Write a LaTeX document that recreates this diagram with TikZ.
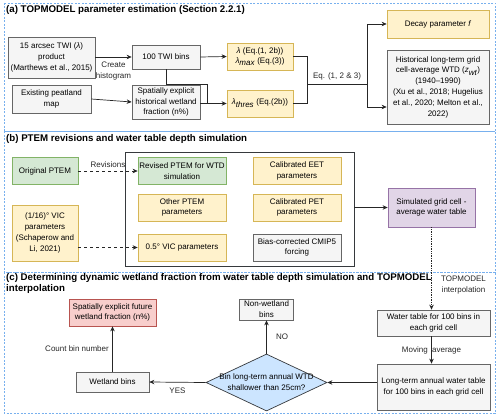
\documentclass[tikz,border=0pt]{standalone}
\usepackage{fontspec}
\setmainfont{Liberation Sans}
\usepackage{tikz}
\usepackage{xcolor}
\usetikzlibrary{arrows.meta,shapes.geometric}
\definecolor{frameblue}{RGB}{120,176,238}
\definecolor{greyfill}{HTML}{F5F5F5}
\definecolor{greyline}{HTML}{666666}
\definecolor{yellowfill}{HTML}{FFF2CC}
\definecolor{yellowline}{HTML}{D6B656}
\definecolor{greenfill}{HTML}{D5E8D4}
\definecolor{greenline}{HTML}{82B366}
\definecolor{purplefill}{HTML}{E1D5E7}
\definecolor{purpleline}{HTML}{9673A6}
\definecolor{redfill}{HTML}{F8CECC}
\definecolor{redline}{HTML}{B85450}
\definecolor{bluefill}{HTML}{CCE5FF}
\definecolor{darkline}{HTML}{36393D}

\begin{document}
\begin{tikzpicture}[x=1pt, y=-1pt, >={Stealth[length=5pt,width=4.5pt]},
    font=\fontsize{8}{10.8}\selectfont,
    basebox/.style={draw, line width=0.7pt, align=center, inner sep=1pt},
    greybox/.style={basebox, draw=greyline, fill=greyfill},
    yellowbox/.style={basebox, draw=yellowline, fill=yellowfill},
    greenbox/.style={basebox, draw=greenline, fill=greenfill},
    purplebox/.style={basebox, draw=purpleline, fill=purplefill},
    redbox/.style={basebox, draw=redline, fill=redfill},
    panel/.style={draw=frameblue, dash pattern=on 2pt off 1.5pt, line width=0.8pt},
    title/.style={font=\fontsize{9.7}{11}\selectfont\bfseries, inner sep=0pt, align=left},
    link/.style={line width=0.7pt, black!85}]
    \useasboundingbox (0,0) rectangle (500,417);

    % Panel frames
    \draw[panel] (4,3) rectangle (495,131);
    \draw[panel] (4,131) rectangle (495,272);
    \draw[panel] (4,272) rectangle (495,413);
    \draw[frameblue, line width=0.8pt] (4,131) -- (495,131);

    % (a) TOPMODEL parameter estimation
    \node[title, anchor=west] (ttla) at (6,10) {(a) TOPMODEL parameter estimation (Section 2.2.1)};
    \node[greybox, minimum width=87, minimum height=41] (twi) at (51.5,57.5) {15 arcsec TWI (\textit{λ})\\product\\(Marthews et al., 2015)};
    \node[greybox, minimum width=79, minimum height=28] (peat) at (51.5,99) {Existing peatland\\map};
    \node[greybox, minimum width=68, minimum height=24] (bins) at (166,57) {100 TWI bins};
    \node[greybox, minimum width=68, minimum height=34] (spat) at (166,102) {Spatially explicit\\historical wetland\\fraction (n\%)};
    \node[yellowbox, minimum width=66, minimum height=27] (lam) at (260,56.5) {\textit{λ} (Eq.(1, 2b))\\\textit{λ}$_{\textit{max}}$ (Eq.(3))};
    \node[yellowbox, minimum width=66, minimum height=27] (thres) at (260,103.5) {\textit{λ}$_{\textit{thres}}$ (Eq.(2b))};
    \node[yellowbox, minimum width=102, minimum height=28] (decay) at (438,24) {Decay parameter \textit{f}};
    \node[greybox, minimum width=102, minimum height=74] (hist) at (438,87) {Historical long-term grid\\cell-average WTD (\textit{z}$_{\textit{wt}}$)\\(1940--1990)\\(Xu et al., 2018; Hugelius\\et al., 2020; Melton et al.,\\2022)};

    \draw[link, ->] (twi.east |- bins.west) -- node[below=1pt, align=center] (hlab) {Create\\histogram} (bins.west);
    \draw[link, ->] (peat.east) -- (spat.west);
    \draw[link, ->] (bins.east) -- (lam.west);
    \draw[link, ->] (spat.east |- thres.west) -- (thres.west);
    \coordinate (jn) at (207,84);
    \draw[link] (bins.south) |- (jn) -- (jn |- thres.west);
    \coordinate (br) at (307,84);
    \coordinate (eqm) at (367,84);
    \draw[link] (lam.east) -| (br);
    \draw[link] (thres.east) -| (br);
    \draw[link] (br) -- node[above] (eqlab) {Eq. (1, 2 \& 3)} (eqm);
    \draw[link, ->] (eqm) |- (decay.west);
    \draw[link, ->] (eqm) |- ([yshift=-20pt]hist.west);

    % (b) PTEM revisions and water table depth simulation
    \node[title, anchor=west] (ttlb) at (6,139) {(b) PTEM revisions and water table depth simulation};
    \node[greenbox, minimum width=66, minimum height=27] (orig) at (45,171) {Original PTEM};
    \node[yellowbox, minimum width=66, minimum height=56] (vicsix) at (45,233) {(1/16)° VIC\\parameters\\(Schaperow and\\Li, 2021)};
    \node[draw=darkline, fill=white, line width=0.8pt, minimum width=229, minimum height=114, inner sep=0pt] (cont) at (239.5,209) {};
    \node[greenbox, minimum width=88, minimum height=27] (rev) at (182,171) {Revised PTEM for WTD\\simulation};
    \node[yellowbox, minimum width=88, minimum height=27] (other) at (182,207.5) {Other PTEM\\parameters};
    \node[yellowbox, minimum width=88, minimum height=27] (vichalf) at (182,247.5) {0.5° VIC parameters};
    \node[yellowbox, minimum width=88, minimum height=27] (eet) at (297,171) {Calibrated EET\\parameters};
    \node[yellowbox, minimum width=88, minimum height=27] (pet) at (297,207.5) {Calibrated PET\\parameters};
    \node[greybox, minimum width=88, minimum height=27] (cmip) at (297,247.5) {Bias-corrected CMIP5\\forcing};
    \node[purplebox, minimum width=87, minimum height=39] (sim) at (431.5,207.5) {Simulated grid cell -\\average water table};

    \draw[link, dashed, ->] (orig.east) -- node[above] (revlab) {Revisions} (rev.west);
    \draw[link, dashed, ->] (vicsix.east |- vichalf.west) -- (vichalf.west);
    \draw[link, ->] (cont.east |- sim.west) -- (sim.west);

    % (c) Dynamic wetland fraction
    \node[title, anchor=north west] (ttlc) at (6,273.5) {(c) Determining dynamic wetland fraction from water table depth simulation and TOPMODEL\\interpolation};
    \node[redbox, minimum width=87, minimum height=27] (future) at (112.5,312.5) {Spatially explicit future\\wetland fraction (n\%)};
    \node[greybox, minimum width=73, minimum height=20] (wet) at (112.5,382) {Wetland bins};
    \node[draw=darkline, fill=bluefill, line width=0.7pt, diamond, minimum width=121, minimum height=57, inner sep=0pt] (dec) at (266.5,382.5) {};
    \node[align=center, inner sep=0pt] (dectxt) at (dec.center) {Bin long-term annual WTD\\shallower than 25cm?};
    \node[greybox, minimum width=54, minimum height=21] (nonwet) at (266.5,309.5) {Non-wetland\\bins};
    \node[greybox, minimum width=113, minimum height=26] (wtbins) at (433.5,323) {Water table for 100 bins in\\each grid cell};
    \node[greybox, minimum width=113, minimum height=46] (ltbins) at (433.5,387) {Long-term annual water table\\for 100 bins in each grid cell};

    \draw[link, densely dotted, ->] (sim.south) -- node[pos=0.7, right=6pt, align=center] (toplab) {TOPMODEL\\interpolation} (sim.south |- wtbins.north);
    \draw[link, ->] (sim.south |- wtbins.south) -- node (movlab) {Moving\ \ average} (sim.south |- ltbins.north);
    \draw[link, ->] (ltbins.west |- dec.east) -- (dec.east);
    \draw[link, ->] (dec.north) -- node[right=6pt] (nolab) {NO} (nonwet.south);
    \draw[link, ->] (dec.west) -- node[below=2pt] (yeslab) {YES} (wet.east);
    \draw[link, ->] (wet.north) -- node[left=0pt] (cntlab) {Count bin number} (future.south);
\end{tikzpicture}
\end{document}
